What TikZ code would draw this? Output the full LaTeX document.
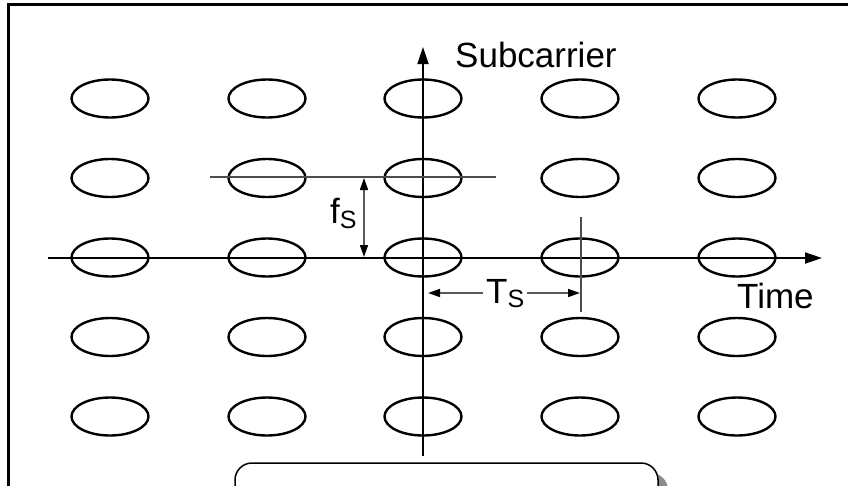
\documentclass[tikz,border=0pt]{standalone}
\usepackage{fontspec}
\setmainfont{Liberation Sans}
\usetikzlibrary{shapes.geometric,arrows.meta}
\begin{document}
\begin{tikzpicture}[x=1pt,y=-1pt,
  cell/.style={draw=black, ellipse, line width=2.4pt, minimum width=77pt, minimum height=38pt, inner sep=0pt},
  axis/.style={draw=black, line width=1.8pt, -{Triangle[length=17pt,width=11pt]}},
  guide/.style={draw=black!70, line width=1.8pt},
  dim/.style={draw=black!65, line width=1.6pt},
  lbl/.style={font=\fontsize{35}{35}\selectfont, inner sep=0pt, text=black},
  frame/.style={draw=black, line width=3pt},
  callout/.style={draw=black, fill=white, line width=1.5pt, rounded corners=17pt},
  shade/.style={draw=none, fill=black!45, rounded corners=17pt}
]
\useasboundingbox (0,0) rectangle (848,485);
\clip (0,0) rectangle (848,485);
\fill[white] (0,0) rectangle (848,485);

% frame (cropped)
\draw[frame] (8,520) -- (8,4.5) -- (880,4.5);

% grid of symbols
\foreach \c/\x in {1/110,2/267,3/423,4/580,5/737}{
  \foreach \r/\y in {1/98.5,2/178,3/257.5,4/337,5/416.5}{
    \node[cell] (e\r\c) at (\x,\y) {};
  }
}

% axes
\coordinate (tO) at (48,258);
\coordinate (tE) at (822,258);
\coordinate (fO) at (423,456);
\coordinate (fE) at (423,47);
\draw[axis] (tO) -- (tE);
\draw[axis] (fO) -- (fE);

% guide lines
\coordinate (gL) at (210,177);
\coordinate (gR) at (496,177);
\draw[guide] (gL) -- (gR);
\coordinate (vT) at (581,217);
\coordinate (vB) at (581,312);
\draw[guide] (vT) -- (vB);

% f_s dimension
\coordinate (fsT) at (364,178);
\coordinate (fsB) at (364,257);
\draw[dim, {Triangle[length=12pt,width=8pt,color=black]}-{Triangle[length=12pt,width=8pt,color=black]}] (fsT) -- (fsB);
\node[lbl, anchor=base west] (fs) at (330,223) {f\raisebox{-5pt}{\fontsize{25}{25}\selectfont S}};

% T_s dimension
\coordinate (tsL) at (428,293);
\coordinate (tsR) at (580,293);
\node[lbl, anchor=base west, inner xsep=3pt] (ts) at (483,303) {T\raisebox{-4pt}{\fontsize{25}{25}\selectfont S}};
\draw[dim, -{Triangle[length=12pt,width=8pt,color=black]}] (ts.west |- tsL) -- (tsL);
\draw[dim, -{Triangle[length=12pt,width=8pt,color=black]}] (ts.east |- tsR) -- (tsR);

% axis labels
\node[lbl, anchor=base west] (sub) at (455,67) {Subcarrier};
\node[lbl, anchor=base west] (time) at (737,308) {Time};

% callout box (cropped at the bottom)
\draw[shade] (245,473) rectangle (668,620);
\draw[callout] (235,463) rectangle (658,620);
\end{tikzpicture}
\end{document}
